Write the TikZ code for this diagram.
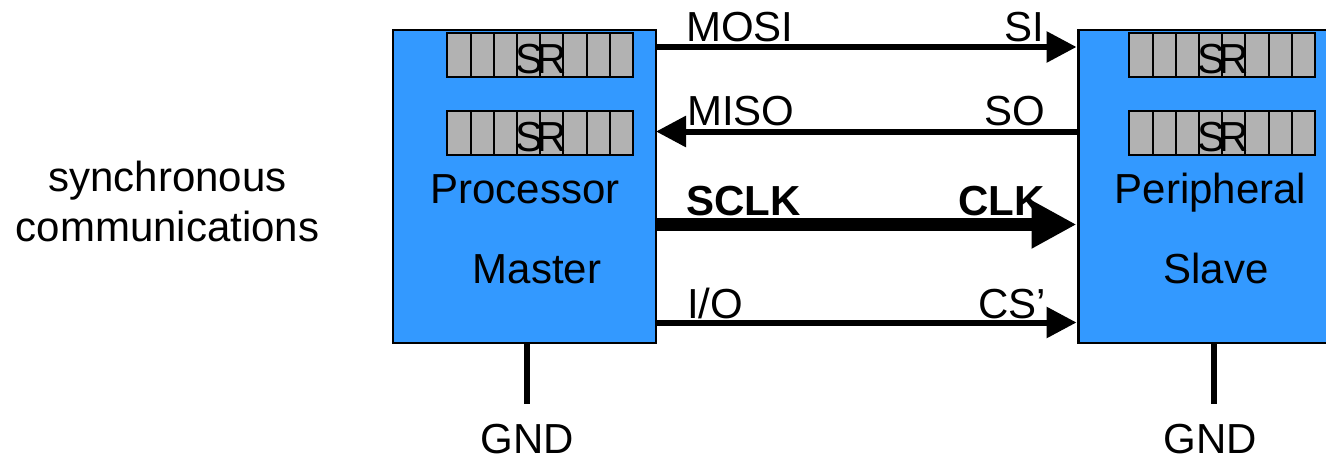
\documentclass[tikz,border=0pt]{standalone}
\usepackage{fontspec}
\setmainfont{Liberation Sans}
\usetikzlibrary{arrows.meta}
\tikzset{
  x=0.75pt,y=-0.75pt,
  chip/.style={draw=black,line width=2pt,fill=chipblue,minimum width=197.25pt,minimum height=234.75pt,inner sep=0pt,outer sep=0pt,anchor=north west},
  cell/.style={draw=black,line width=1.5pt,fill=cellgray,minimum width=17.4pt,minimum height=33pt,inner sep=0pt,outer sep=0pt,anchor=north west},
  lab/.style={font=\fontsize{31.5}{31.5}\selectfont,text=black,inner sep=0pt,anchor=base},
  blab/.style={lab,font=\fontsize{31.5}{31.5}\selectfont\bfseries},
  srlab/.style={font=\fontsize{31.5}{31.5}\selectfont,text=black,inner sep=0pt,anchor=base},
  sig/.style={line width=4.5pt,-{Triangle[length=22.5pt,width=22.5pt]},shorten >=0pt},
  bigsig/.style={line width=9.75pt,-{Triangle[length=33.75pt,width=33.75pt]}},
  gndline/.style={line width=4.5pt},
}
\definecolor{chipblue}{RGB}{51,153,255}
\definecolor{cellgray}{RGB}{178,178,178}
\newcommand{\srreg}[3]{%
  \foreach \i in {0,...,7}{\node[cell] (#3c\i) at ({#1+\i*23.2},#2) {};}
  \node[srlab] (#3t) at ({#1+94},{#2+40.5}) {S\kern-5.5pt R};
}
\begin{document}
\begin{tikzpicture}
\useasboundingbox (0,0) rectangle (1326,460);
\clip (0,0) rectangle (1326,460);
\node[chip] (master) at (393,30) {};
\node[chip] (slave) at (1078.5,30) {};
\srreg{447.3}{32.7}{ma}
\srreg{447.3}{110.7}{mb}
\srreg{1129.3}{32.7}{sa}
\srreg{1129.3}{110.7}{sb}
\node[lab] (proc) at (525,203) {Processor};
\node[lab] (mast) at (537,283) {Master};
\node[lab] (peri) at (1210.5,203) {Peripheral};
\node[lab] (slav) at (1216,283) {Slave};
\node[lab] (sync1) at (167.5,191) {synchronous};
\node[lab] (sync2) at (167.5,241) {communications};
\node[lab,anchor=base west] (mosi) at (686,42) {MOSI};
\node[lab,anchor=base east] (si) at (1044,42) {SI};
\node[lab,anchor=base west] (miso) at (687,125.5) {MISO};
\node[lab,anchor=base east] (so) at (1045,125.5) {SO};
\node[blab,anchor=base west] (sclk) at (686,215) {SCLK};
\node[blab,anchor=base east] (clkl) at (1045,215) {CLK};
\node[lab,anchor=base west] (io) at (687,318) {I/O};
\node[lab,anchor=base east] (cs) at (1046,318) {CS’};
\node[lab] (g1) at (527,453) {GND};
\node[lab] (g2) at (1210,453) {GND};
\coordinate (mA) at (master.east |- 0,47);
\coordinate (mB) at (master.east |- 0,131.5);
\coordinate (mC) at (master.east |- 0,224.5);
\coordinate (mD) at (master.east |- 0,322.5);
\coordinate (sA) at (1076.5,47);
\coordinate (sB) at (slave.west |- 0,131.5);
\coordinate (sC) at (1076.5,224.5);
\coordinate (sD) at (1076.5,322.5);
\coordinate (g1e) at (527,404);
\coordinate (g2e) at (1214,404);
\coordinate (m1) at (527,343);
\coordinate (s1) at (1214,343);
\draw[sig] (mA) -- (sA);
\draw[sig] (sB) -- (mB);
\draw[bigsig] (mC) -- (sC);
\draw[sig] (mD) -- (sD);
\draw[gndline] (m1) -- (g1e);
\draw[gndline] (s1) -- (g2e);
\end{tikzpicture}
\end{document}
